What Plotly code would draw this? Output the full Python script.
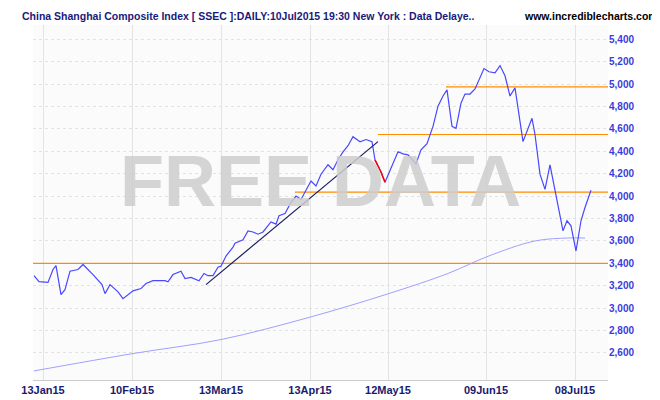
import plotly.graph_objects as go

# x positions in chart "session" units, prices in index points
session = [26,31,40,45,48,53,57,62,70,75,85,94,97,102,110,115,125,133,138,145,157,160,165,173,177,183,191,196,200,205,210,213,218,225,227,235,240,245,250,255,263,268,271,277,283,288,293,298,303,308,313,320,325,330,335,340,345,352,358,364,367,
           373,377,390,395,400,408,413,419,425,430,435,439,444,448,453,457,462,467,476,481,487,492,497,502,507,515,524,527,532,537,542,555,559,563,568,573,577,583]
price = [3290,3237,3230,3345,3380,3120,3165,3330,3345,3390,3300,3210,3130,3210,3145,3085,3155,3175,3220,3245,3245,3235,3300,3330,3265,3275,3245,3310,3290,3290,3365,3375,3465,3545,3580,3610,3690,3680,3660,3680,3770,3750,3825,3845,3945,4000,3970,4050,4135,4090,4195,4280,4235,4325,4395,4450,4530,4485,4505,4486,4323,
         4215,4124,4396,4377,4368,4287,4414,4468,4622,4803,4893,4948,4622,4604,4830,4911,4911,4957,5138,5110,5101,5165,5074,4893,4966,4486,4694,4550,4196,4060,4278,3690,3780,3735,3510,3780,3898,4052]
ma_session = [26,125,213,302,380,440,480,527,560,577]
ma_value = [2440,2595,2720,2920,3128,3310,3463,3600,3626,3626]
h_levels = [3400,4035,4550,4975]
h_start = [25,287,370,438]
trend_x = [198,370]; trend_y = [3210,4486]
red_x = [367,373,377]; red_y = [4323,4215,4124]
tick_pos = [35,124,213,302,380,478,567]
tick_txt = ["13Jan15","10Feb15","13Mar15","13Apr15","12May15","09Jun15","08Jul15"]
y_ticks = list(range(2600,5401,200))
title_txt = "China Shanghai Composite Index [ SSEC ]:DAILY:10Jul2015 19:30 New York : Data Delaye.."
site_txt = "www.incrediblecharts.com"

fig = go.Figure()
for lv, st in zip(h_levels, h_start):
    fig.add_trace(go.Scatter(x=[st, 600], y=[lv, lv], mode="lines", line=dict(color="#ff8c00", width=1.2), hoverinfo="skip"))
fig.add_trace(go.Scatter(x=ma_session, y=ma_value, mode="lines", line=dict(color="#a0a0ff", width=1, shape="spline")))
fig.add_trace(go.Scatter(x=session, y=price, mode="lines", line=dict(color="#4848ff", width=1.2)))
fig.add_trace(go.Scatter(x=trend_x, y=trend_y, mode="lines", line=dict(color="#1a1a5e", width=1.2)))
fig.add_trace(go.Scatter(x=red_x, y=red_y, mode="lines", line=dict(color="#ff0000", width=1.5)))

fig.update_layout(
    width=660, height=400, showlegend=False,
    margin=dict(l=25, r=60, t=17, b=28),
    paper_bgcolor="white", plot_bgcolor="#fbfbfb",
    font=dict(family="Liberation Sans, Arial", size=11),
)
fig.add_annotation(text="<b>FREE DATA</b>", x=0.5, y=0.56, xref="paper", yref="paper", showarrow=False,
                   font=dict(family="Liberation Sans", size=72, color="rgba(205,205,205,0.85)"))
fig.add_annotation(text="<b>" + title_txt + "</b>", x=-0.022, y=1.0, xref="paper", yref="paper",
                   xanchor="left", yanchor="bottom", showarrow=False, yshift=1,
                   font=dict(color="#1a1a7a", size=10.5, family="Liberation Sans"))
fig.add_annotation(text="<b>" + site_txt + "</b>", x=1.09, y=1.0, xref="paper", yref="paper",
                   xanchor="right", yanchor="bottom", showarrow=False, yshift=1,
                   font=dict(color="#000000", size=10.5, family="Liberation Sans"))
fig.update_xaxes(range=[25, 600], tickvals=tick_pos, ticktext=["<b>%s</b>" % t for t in tick_txt],
                 showgrid=True, gridcolor="#e4e4e4", zeroline=False, tickfont=dict(color="#1a1a6e", size=11),
                 showline=True, linecolor="#cccccc", ticks="")
fig.update_yaxes(range=[2359, 5527], side="right", tickvals=y_ticks,
                 ticktext=["<b>{:,}</b>".format(v) for v in y_ticks], showgrid=True, gridcolor="#e2e2e2",
                 griddash="dot", zeroline=False, tickfont=dict(color="#3b3bdc", size=10), ticks="")
fig.write_html("out.html")
